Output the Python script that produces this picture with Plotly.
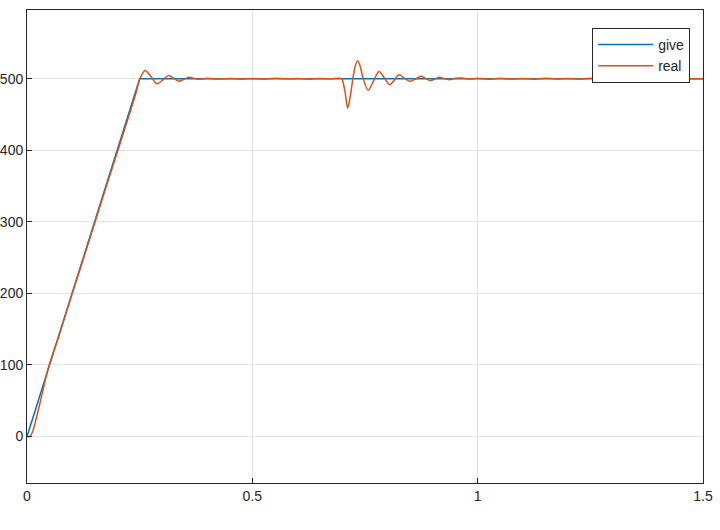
import plotly.graph_objects as go

# give: reference speed (ramp then constant)
give_t = [0.0, 0.25, 1.5]
give_v = [0.0, 500.0, 500.0]

real_t = [0.0, 0.006, 0.012, 0.02, 0.03, 0.047, 0.07, 0.1, 0.13, 0.16, 0.19, 0.22, 0.24,
          0.252, 0.262, 0.275, 0.288, 0.3, 0.3135, 0.325, 0.337, 0.348, 0.359, 0.37, 0.382,
          0.4, 0.425, 0.45, 0.475, 0.5, 0.525, 0.55, 0.575, 0.6, 0.625, 0.65, 0.675, 0.69,
          0.698, 0.705, 0.7116, 0.718, 0.723, 0.728, 0.734, 0.74, 0.746, 0.757, 0.769, 0.781,
          0.793, 0.805, 0.815, 0.825, 0.838, 0.850, 0.862, 0.8735, 0.884, 0.894, 0.905, 0.915,
          0.927, 0.938, 0.95, 0.965, 0.98, 1.0, 1.025, 1.05, 1.075, 1.1, 1.125, 1.15, 1.175,
          1.2, 1.225, 1.25, 1.275, 1.3, 1.325, 1.35, 1.375, 1.4, 1.425, 1.45, 1.475, 1.5]
real_v = [0.0, 0.0, 6.0, 24.0, 50.0, 95.0, 139.0, 199.0, 258.0, 318.0, 377.0, 436.0, 476.0,
          502.0, 511.5, 503.0, 492.8, 497.5, 504.3, 501.0, 496.4, 499.0, 501.9, 500.5, 499.2,
          500.5, 499.6, 500.4, 499.7, 500.2, 499.5, 500.5, 499.8, 500.3, 499.7, 500.2, 500.0, 500.5,
          500.0, 484.0, 459.0, 478.0, 500.0, 517.0, 525.0, 516.0, 500.0, 483.7, 497.0, 510.0,
          501.0, 491.7, 498.0, 505.6, 500.5, 496.3, 499.5, 503.3, 500.5, 497.3, 499.5, 502.0,
          500.0, 498.5, 500.5, 500.8, 499.5, 500.6, 499.3, 500.5, 499.6, 500.4, 499.4, 500.6, 499.7,
          500.4, 499.5, 500.5, 499.6, 500.3, 499.5, 500.4, 499.7, 500.3, 499.6, 500.4, 499.8, 500.0]

x_ticks = [0, 0.5, 1, 1.5]
x_labels = ["0", "0.5", "1", "1.5"]
y_ticks = [0, 100, 200, 300, 400, 500]

FONT = "Liberation Sans, Arial, sans-serif"

fig = go.Figure()
fig.add_trace(go.Scatter(x=give_t, y=give_v, mode="lines", name="give",
                         line=dict(color="#0072BD", width=1.5)))
fig.add_trace(go.Scatter(x=real_t, y=real_v, mode="lines", name="real",
                         line=dict(color="#D95319", width=1.5, shape="spline", smoothing=0.8)))

axis_common = dict(showline=True, mirror=True, linecolor="#262626", linewidth=1,
                   showgrid=True, gridcolor="#e3e3e3", gridwidth=1, zeroline=False,
                   ticks="inside", ticklen=5, tickcolor="#262626", automargin=False,
                   tickfont=dict(family=FONT, size=14, color="#262626"))

fig.update_xaxes(range=[0, 1.5], tickvals=x_ticks, ticktext=x_labels, **axis_common)
fig.update_yaxes(range=[-65, 596], tickvals=y_ticks, **axis_common)

fig.update_layout(
    width=720, height=530,
    margin=dict(l=27, r=17, t=10, b=47),
    paper_bgcolor="white", plot_bgcolor="white",
    font=dict(family=FONT, size=14, color="#262626"),
    showlegend=True,
    legend=dict(x=0.836, y=0.962, xanchor="left", yanchor="top",
                bgcolor="white", bordercolor="#262626", borderwidth=1,
                font=dict(family=FONT, size=14), tracegroupgap=0, itemwidth=55),
)

fig.write_html("out.html", config={"displayModeBar": False},
               post_script="document.body.style.margin='0px';")
